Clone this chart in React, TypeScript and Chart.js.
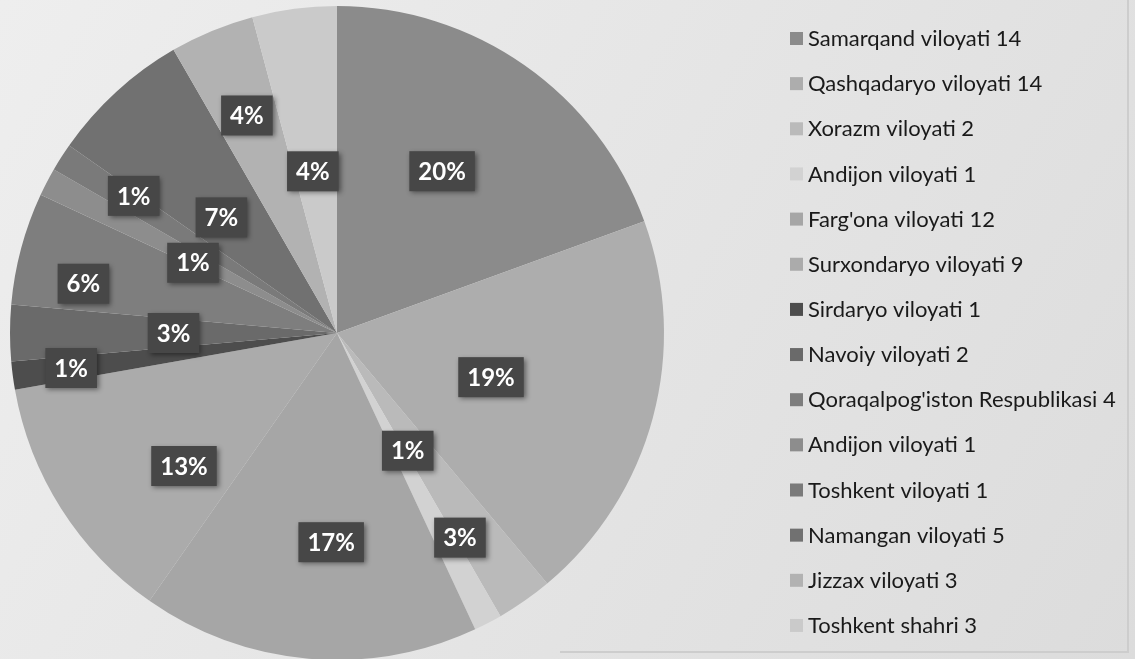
import React, { useEffect, useRef } from "react";
import { Chart, registerables } from "chart.js";

Chart.register(...registerables);

// ---- data ----
const categories = [
  "Samarqand viloyati",
  "Qashqadaryo viloyati",
  "Xorazm viloyati",
  "Andijon viloyati",
  "Farg'ona viloyati",
  "Surxondaryo viloyati",
  "Sirdaryo viloyati",
  "Navoiy viloyati",
  "Qoraqalpog'iston Respublikasi",
  "Andijon viloyati",
  "Toshkent viloyati",
  "Namangan viloyati",
  "Jizzax viloyati",
  "Toshkent shahri",
];
const values = [14, 14, 2, 1, 12, 9, 1, 2, 4, 1, 1, 5, 3, 3];
const percentLabels = ["20%", "19%", "3%", "1%", "17%", "13%", "1%", "3%", "6%", "1%", "1%", "7%", "4%", "4%"];

// ---- styles ----
const sliceColors = [
  "#8b8b8b",
  "#adadad",
  "#bababa",
  "#d2d2d2",
  "#a6a6a6",
  "#ababab",
  "#4d4d4d",
  "#6a6a6a",
  "#7e7e7e",
  "#8d8d8d",
  "#7a7a7a",
  "#717171",
  "#b2b2b2",
  "#cacaca",
];
// label placement: fraction of outer radius, and angular nudge in degrees
const labelRadius = [0.59, 0.49, 0.73, 0.42, 0.64, 0.62, 0.82, 0.5, 0.79, 0.49, 0.75, 0.5, 0.72, 0.5];
const labelNudge = [-2, 1, 4, -3.5, -3.4, -8.5, 0, 0, -4, -1.5, 1.5, -2.5, 0, -1];

const LEGEND_X = 790;
const LEGEND_Y0 = 38;
const LEGEND_STEP = 45.15;
const LEGEND_FONT = "22px Lato, 'Noto Sans', sans-serif";
const LABEL_FONT = "bold 24px Lato, 'Noto Sans', sans-serif";

const backgroundPlugin = {
  id: "bgPlugin",
  beforeDraw(chart: any) {
    const { ctx, width, height } = chart;
    ctx.save();
    const g = ctx.createLinearGradient(0, 0, width, height);
    g.addColorStop(0, "#eeeeee");
    g.addColorStop(1, "#dcdcdc");
    ctx.fillStyle = g;
    ctx.fillRect(0, 0, width, height);
    ctx.strokeStyle = "#cdcdcd";
    ctx.lineWidth = 2;
    ctx.beginPath();
    ctx.moveTo(560, 652);
    ctx.lineTo(1128, 652);
    ctx.lineTo(1128, 0);
    ctx.stroke();
    ctx.restore();
  },
};

const sliceLabelPlugin = {
  id: "sliceLabels",
  afterDatasetsDraw(chart: any) {
    const { ctx } = chart;
    const meta = chart.getDatasetMeta(0);
    ctx.save();
    ctx.font = LABEL_FONT;
    ctx.textAlign = "center";
    ctx.textBaseline = "middle";
    meta.data.forEach((arc: any, i: number) => {
      const p = arc.getProps(["x", "y", "startAngle", "endAngle", "outerRadius"], true);
      const mid = (p.startAngle + p.endAngle) / 2 + (labelNudge[i] * Math.PI) / 180;
      const r = p.outerRadius * labelRadius[i];
      const cx = p.x + Math.cos(mid) * r;
      const cy = p.y + Math.sin(mid) * r;
      const text = percentLabels[i];
      const tw = ctx.measureText(text).width;
      const bw = tw + 18;
      const bh = 40;
      ctx.save();
      ctx.shadowColor = "rgba(0,0,0,0.45)";
      ctx.shadowBlur = 5;
      ctx.shadowOffsetX = 2;
      ctx.shadowOffsetY = 2;
      ctx.fillStyle = "#474747";
      ctx.fillRect(cx - bw / 2, cy - bh / 2, bw, bh);
      ctx.restore();
      ctx.fillStyle = "#ffffff";
      ctx.fillText(text, cx, cy + 1);
    });
    ctx.restore();
  },
};

const legendPlugin = {
  id: "sideLegend",
  afterDraw(chart: any) {
    const { ctx } = chart;
    const labels = chart.data.labels as string[];
    const colors = chart.data.datasets[0].backgroundColor as string[];
    const vals = chart.data.datasets[0].data as number[];
    ctx.save();
    ctx.font = LEGEND_FONT;
    ctx.textBaseline = "middle";
    ctx.textAlign = "left";
    labels.forEach((lab, i) => {
      const y = LEGEND_Y0 + i * LEGEND_STEP;
      ctx.fillStyle = colors[i];
      ctx.fillRect(LEGEND_X, y - 6, 13, 13);
      ctx.fillStyle = "#1a1a1a";
      ctx.fillText(`${lab} ${vals[i]}`, LEGEND_X + 18, y + 1);
    });
    ctx.restore();
  },
};

export default function App() {
  const canvasRef = useRef<HTMLCanvasElement | null>(null);

  useEffect(() => {
    if (!canvasRef.current) return;
    const chart = new Chart(canvasRef.current, {
      type: "pie",
      data: {
        labels: categories,
        datasets: [
          {
            data: values,
            backgroundColor: sliceColors,
            borderWidth: 0,
            hoverOffset: 0,
          },
        ],
      },
      options: {
        animation: false,
        responsive: false,
        maintainAspectRatio: false,
        layout: { padding: { left: 10, top: 6, right: 471, bottom: 2 } },
        plugins: {
          legend: { display: false },
          tooltip: { enabled: false },
        },
        events: [],
      },
      plugins: [backgroundPlugin, sliceLabelPlugin, legendPlugin],
    });
    return () => chart.destroy();
  }, []);

  return (
    <div
      style={{
        position: "fixed",
        left: 0,
        top: 0,
        width: 1135,
        height: 659,
        overflow: "hidden",
        background: "#e6e6e6",
      }}
    >
      <canvas ref={canvasRef} width={1135} height={662} style={{ display: "block" }} />
    </div>
  );
}
